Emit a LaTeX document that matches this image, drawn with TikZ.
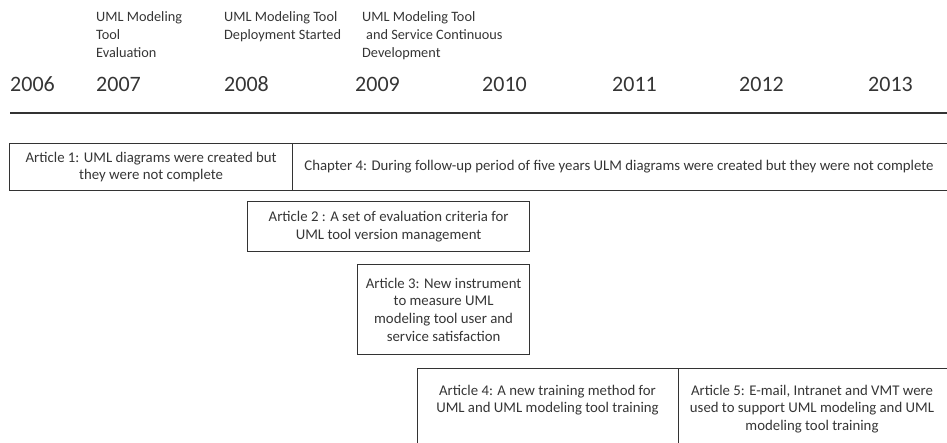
\documentclass[tikz,border=0pt]{standalone}
\usepackage{fontspec}
\setmainfont{Carlito}
\definecolor{ink}{HTML}{353535}
\definecolor{edge}{HTML}{333333}
\begin{document}
\begin{tikzpicture}[x=1pt,y=-1pt,
  year/.style={font=\fontsize{22}{26}\selectfont, anchor=west, inner sep=0pt, text=ink},
  phase/.style={font=\fontsize{14.3}{18}\selectfont, align=left, anchor=north west, inner sep=0pt, text=ink},
  frame/.style={draw=edge, line width=1.2pt, anchor=north west, inner sep=0pt},
  boxtext/.style={font=\fontsize{14.8}{17.6}\selectfont, align=center, inner sep=0pt, text=ink},
  axis/.style={draw=edge, line width=1.5pt}]
\useasboundingbox (0,0) rectangle (947,443);
\clip (0,0) rectangle (947,443);

% phase captions
\node[phase] (p1) at (96,11) {UML Modeling\\Tool\\Evaluation};
\node[phase] (p2) at (224,11) {UML Modeling Tool\\Deployment Started};
\node[phase] (p3) at (362,11) {UML Modeling Tool\\\hspace{4pt}and Service Continuous\\Development};

% years
\node[year] (y2006) at (10,84) {2006};
\node[year] (y2007) at (96,84) {2007};
\node[year] (y2008) at (224,84) {2008};
\node[year] (y2009) at (355,84) {2009};
\node[year] (y2010) at (482,84) {2010};
\node[year] (y2011) at (612,84) {2011};
\node[year] (y2012) at (739,84) {2012};
\node[year] (y2013) at (868,84) {2013};

% time axis
\coordinate (t0) at (10,113);
\coordinate (t1) at (950,113);
\draw[axis] (t0) -- (t1);

% study boxes
\node[frame, minimum width=283pt, minimum height=47pt] (a1) at (9,143) {};
\node[boxtext] (a1t) at (a1.center) {Article 1: UML diagrams were created but\\they were not complete};

\node[frame, minimum width=660pt, minimum height=47pt] (c4) at (292,143) {};
\node[boxtext] (c4t) at (619,166.5) {Chapter 4: During follow-up period of five years ULM diagrams were created but they were not complete};

\node[frame, minimum width=282pt, minimum height=50pt] (a2) at (247,201) {};
\node[boxtext] (a2t) at (a2.center) {Article 2 : A set of evaluation criteria for\\UML tool version management};

\node[frame, minimum width=172pt, minimum height=90pt] (a3) at (357,264) {};
\node[boxtext] (a3t) at (a3.center) {Article 3: New instrument\\to measure UML\\modeling tool user and\\service satisfaction};

\node[frame, minimum width=261pt, minimum height=100pt] (a4) at (417,368) {};
\node[boxtext] (a4t) at (547.5,400) {Article 4: A new training method for\\UML and UML modeling tool training};

\node[frame, minimum width=280pt, minimum height=100pt] (a5) at (678,368) {};
\node[boxtext] (a5t) at (812,409) {Article 5: E-mail, Intranet and VMT were\\used to support UML modeling and UML\\modeling tool training};
\end{tikzpicture}
\end{document}
